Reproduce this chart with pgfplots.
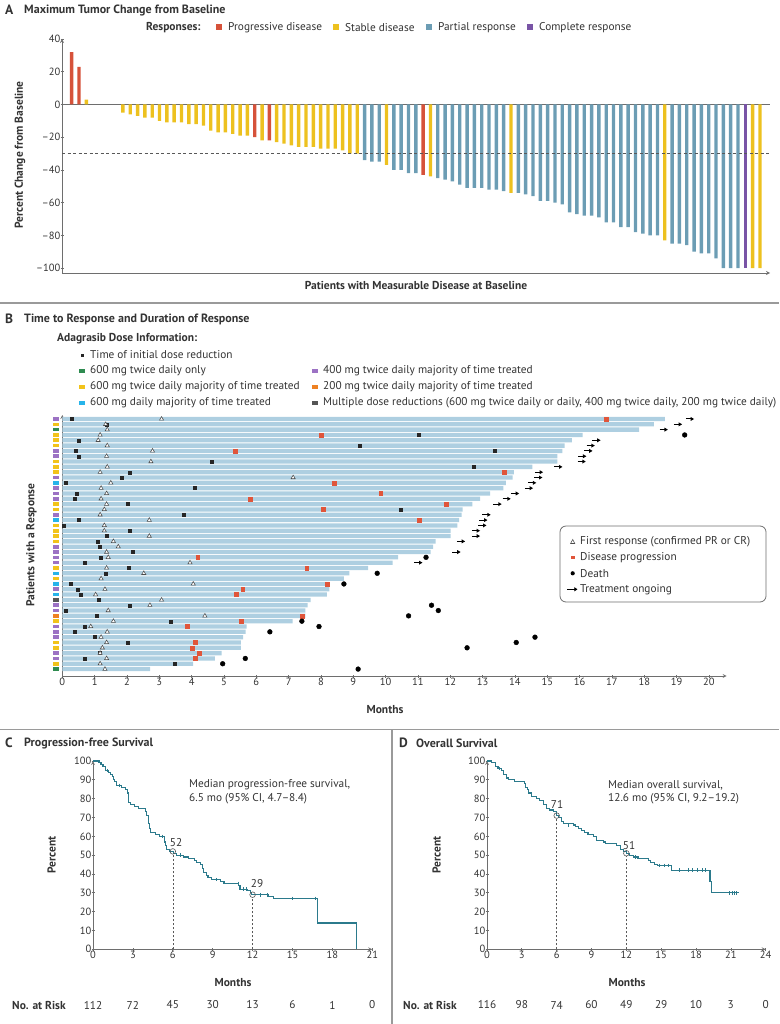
\documentclass[border=0pt]{standalone}
\usepackage{fontspec}
\setmainfont{PT Sans}
\usepackage{pgfplots}
\pgfplotsset{compat=1.18}
\usetikzlibrary{arrows.meta}

\definecolor{cred}{HTML}{D6523A}
\definecolor{cyel}{HTML}{EDC11F}
\definecolor{cblue}{HTML}{6C9DB4}
\definecolor{cpur}{HTML}{7954A6}
\definecolor{barblue}{HTML}{AECFE1}
\definecolor{tagpur}{HTML}{9C72C4}
\definecolor{tagyel}{HTML}{F2C31A}
\definecolor{taggrn}{HTML}{2E8B50}
\definecolor{tagcya}{HTML}{27B4EA}
\definecolor{tagorg}{HTML}{EE8122}
\definecolor{taggry}{HTML}{555555}
\definecolor{progred}{HTML}{E0553A}
\definecolor{km}{HTML}{2B7A8C}
\definecolor{txt}{HTML}{333333}
\definecolor{axc}{HTML}{6E6E6E}
\definecolor{sep}{HTML}{9A9A9A}

\newcommand\fs[1]{\fontsize{#1}{#1}\selectfont}
\newcommand\body{\fs{11.3}}
\newcommand\lab{\bfseries\fs{11.5}}
\newcommand\ttl{\bfseries\fs{12}}
\newcommand\plet{\bfseries\fs{13.5}}

% treatment ongoing arrow
\pgfdeclareplotmark{ongoing}{%
  \pgfsetlinewidth{1pt}%
  \pgfpathmoveto{\pgfqpoint{-4pt}{0pt}}\pgfpathlineto{\pgfqpoint{1.5pt}{0pt}}\pgfusepathqstroke
  \pgfpathmoveto{\pgfqpoint{4.2pt}{0pt}}\pgfpathlineto{\pgfqpoint{0.8pt}{2pt}}%
  \pgfpathlineto{\pgfqpoint{0.8pt}{-2pt}}\pgfpathclose\pgfusepathqfill}
% dose group tag
\pgfdeclareplotmark{rowtag}{%
  \pgfpathrectangle{\pgfqpoint{-3pt}{-1.8pt}}{\pgfqpoint{6pt}{3.6pt}}\pgfusepathqfill}

\pgfplotsset{
  base/.style={scale only axis, anchor=south west, clip=false,
    axis line style={-, axc, line width=0.8pt},
    tick style={axc, line width=0.7pt},
    tick align=outside, major tick length=3pt,
    tick label style={font=\fs{10.5}, text=txt},
    /pgf/number format/assume math mode=true},
}

\begin{document}
\begin{tikzpicture}[x=1pt,y=-1pt,every node/.style={text=txt, inner sep=0pt}]

% ---------------- Panel A ----------------
\begin{axis}[base, at={(62pt,-273pt)}, width=708pt, height=234pt,
  xmin=-0.32, xmax=96.37, ymin=-103, ymax=40,
  axis x line=bottom, axis y line=left, xtick=\empty,
  ytick={-100,-80,-60,-40,-20,0,20,40},
  yticklabels={{--100},{--80},{--60},{--40},{--20},0,20,40}]
\addplot[axc, line width=0.8pt] coordinates {(-0.32,0) (96.37,0)};
\addplot[ybar, bar width=3.4pt, bar shift=0pt, fill=cred, draw=none] coordinates {
(1,32) (2,23) (26,-20) (28,-22) (49,-43)};
\addplot[ybar, bar width=3.4pt, bar shift=0pt, fill=cyel, draw=none] coordinates {
(3,3) (8,-5) (9,-6) (10,-7) (11,-8) (12,-8) (13,-10) (14,-11) (15,-11) (16,-11)
(17,-12) (18,-12) (19,-13) (20,-16) (21,-17) (22,-17) (23,-18) (24,-19) (25,-19)
(27,-22) (29,-23) (30,-24) (31,-25) (32,-26) (33,-26) (34,-26) (35,-27) (36,-27)
(37,-27) (38,-28) (39,-30) (40,-30) (44,-37) (50,-44) (61,-54) (82,-83) (94,-100) (95,-100)};
\addplot[ybar, bar width=3.4pt, bar shift=0pt, fill=cblue, draw=none] coordinates {
(41,-34) (42,-35) (43,-35) (45,-40) (46,-40) (47,-42) (48,-42) (51,-45) (52,-46)
(53,-47) (54,-49) (55,-51) (56,-51) (57,-51) (58,-52) (59,-52) (60,-53) (62,-54)
(63,-55) (64,-56) (65,-59) (66,-59) (67,-60) (68,-61) (69,-66) (70,-67) (71,-68)
(72,-68) (73,-69) (74,-72) (75,-72) (76,-75) (77,-75) (78,-78) (79,-79) (80,-80)
(81,-80) (83,-85) (84,-85) (85,-86) (86,-90) (87,-91) (88,-91) (89,-94) (90,-100)
(91,-100) (92,-100)};
\addplot[ybar, bar width=3.4pt, bar shift=0pt, fill=cpur, draw=none] coordinates {(93,-100)};
\addplot[axc!80!black, line width=0.8pt, dash pattern=on 3pt off 2.5pt] coordinates {(-0.32,-30) (96.37,-30)};
\end{axis}

\node[anchor=west, font=\plet] at (5,10) {A};
\node[anchor=west, font=\ttl] at (24,10) {Maximum Tumor Change from Baseline};
\node[anchor=west, font=\lab] at (146,27.5) {Responses:};
\fill[cred] (216,24.5) rectangle (222,30.5);
\node[anchor=west, font=\body] at (228,27.5) {Progressive disease};
\fill[cyel] (333,24.5) rectangle (339,30.5);
\node[anchor=west, font=\body] at (345,27.5) {Stable disease};
\fill[cblue] (426,24.5) rectangle (432,30.5);
\node[anchor=west, font=\body] at (438,27.5) {Partial response};
\fill[cpur] (527,24.5) rectangle (533,30.5);
\node[anchor=west, font=\body] at (539,27.5) {Complete response};
\node[rotate=90, font=\lab] at (20,155) {Percent Change from Baseline};
\node[font=\lab] at (416,285) {Patients with Measurable Disease at Baseline};

% separators
\draw[sep, line width=1.6pt] (0,303) -- (779,303);
\draw[sep, line width=1.6pt] (0,729.5) -- (779,729.5);
\draw[sep, line width=1.6pt] (392,729.5) -- (392,1024);

% ---------------- Panel B ----------------
\node[anchor=west, font=\plet] at (5,319) {B};
\node[anchor=west, font=\ttl] at (24,319) {Time to Response and Duration of Response};
\node[anchor=west, font=\lab] at (57,339) {Adagrasib Dose Information:};
\fill[black!85] (80.5,353.5) rectangle (83.5,356.5);
\node[anchor=west, font=\body] at (90,355) {Time of initial dose reduction};
\fill[taggrn] (79,369.3) rectangle (85,372.7);
\node[anchor=west, font=\body] at (90,371) {600 mg twice daily only};
\fill[tagyel] (79,385.3) rectangle (85,388.7);
\node[anchor=west, font=\body] at (90,387) {600 mg twice daily majority of time treated};
\fill[tagcya] (79,401.3) rectangle (85,404.7);
\node[anchor=west, font=\body] at (90,403) {600 mg daily majority of time treated};
\fill[tagpur] (312,369.3) rectangle (318,372.7);
\node[anchor=west, font=\body] at (323,371) {400 mg twice daily majority of time treated};
\fill[tagorg] (312,385.3) rectangle (318,388.7);
\node[anchor=west, font=\body] at (323,387) {200 mg twice daily majority of time treated};
\fill[taggry] (312,401.3) rectangle (318,404.7);
\node[anchor=west, font=\body] at (323,403) {Multiple dose reductions (600 mg twice daily or daily, 400 mg twice daily, 200 mg twice daily)};

\begin{axis}[base, at={(62.3pt,-676pt)}, width=664.4pt, height=261pt,
  xmin=0, xmax=20.55, ymin=-49.3, ymax=-0.25,
  axis x line=bottom, axis y line=left, ytick=\empty, xtick={0,1,...,20}]
\addplot[xbar, bar width=4.3pt, bar shift=0pt, fill=barblue, draw=none] coordinates {
(18.64,-1) (18.30,-2) (17.84,-3) (16.09,-4) (15.76,-5) (15.54,-6) (15.47,-7) (15.31,-8)
(15.31,-9) (14.54,-10) (13.97,-11) (13.93,-12) (13.72,-13) (13.64,-14) (13.23,-15)
(12.92,-16) (12.68,-17) (12.38,-18) (12.35,-19) (12.27,-20) (12.22,-21) (12.01,-22)
(12.01,-23) (11.55,-24) (11.47,-25) (11.39,-26) (10.39,-27) (10.22,-28) (9.46,-29)
(8.88,-30) (8.71,-31) (8.26,-32) (8.26,-33) (8.18,-34) (7.68,-35) (7.59,-36) (7.52,-37)
(7.52,-38) (7.12,-39) (5.70,-40) (5.67,-41) (5.59,-42) (5.52,-43) (5.52,-44) (4.93,-45)
(4.72,-46) (4.05,-47) (2.72,-48)};
% dose group tags
\addplot[only marks, mark=rowtag, tagpur] coordinates {
(-0.2,-1) (-0.2,-7) (-0.2,-8) (-0.2,-12) (-0.2,-14) (-0.2,-15) (-0.2,-16) (-0.2,-19)
(-0.2,-25) (-0.2,-26) (-0.2,-27) (-0.2,-28) (-0.2,-33) (-0.2,-36) (-0.2,-37) (-0.2,-40)
(-0.2,-41) (-0.2,-42) (-0.2,-45) (-0.2,-46)};
\addplot[only marks, mark=rowtag, tagyel] coordinates {
(-0.2,-2) (-0.2,-4) (-0.2,-5) (-0.2,-6) (-0.2,-9) (-0.2,-10) (-0.2,-11) (-0.2,-17)
(-0.2,-18) (-0.2,-21) (-0.2,-22) (-0.2,-23) (-0.2,-24) (-0.2,-29) (-0.2,-31) (-0.2,-39)
(-0.2,-43) (-0.2,-44) (-0.2,-47)};
\addplot[only marks, mark=rowtag, taggrn] coordinates {(-0.2,-3) (-0.2,-48)};
\addplot[only marks, mark=rowtag, tagcya] coordinates {(-0.2,-13) (-0.2,-20) (-0.2,-30) (-0.2,-32) (-0.2,-34)};
\addplot[only marks, mark=rowtag, taggry] coordinates {(-0.2,-35)};
\addplot[only marks, mark=rowtag, tagorg] coordinates {(-0.2,-38)};
% time of initial dose reduction
\addplot[only marks, mark=square*, mark size=1.5pt, black!85] coordinates {
(0.29,-1) (1.37,-2) (11.03,-4) (0.52,-5) (9.2,-6) (0.42,-7) (13.36,-7) (0.50,-8) (4.62,-9)
(12.71,-10) (2.09,-11) (1.84,-12) (0.10,-13) (4.10,-14) (0.45,-15) (0.37,-16) (2.01,-17)
(10.47,-18) (3.76,-19) (0.52,-20) (0.04,-21) (2.09,-22) (1.37,-23) (1.11,-24) (1.15,-25)
(2.17,-26) (1.19,-27) (0.68,-28) (2.04,-29) (1.35,-30) (0.26,-32) (0.48,-33) (0.58,-34)
(1.13,-35) (2.09,-36) (0.10,-37) (1.06,-38) (3.34,-39) (0.68,-40) (0.37,-41) (1.01,-42)
(2.02,-43) (1.15,-45) (0.68,-46) (3.49,-47)};
% first response
\addplot[only marks, mark=triangle*, mark size=2.4pt, draw=black!70, fill=white, line width=0.55pt] coordinates {
(3.07,-1) (1.34,-2) (1.39,-3) (1.17,-4) (1.11,-5) (1.39,-6) (2.79,-7) (1.37,-8) (2.74,-9)
(1.39,-10) (1.17,-11) (7.14,-12) (1.50,-13) (1.20,-14) (1.37,-15) (1.20,-16) (1.37,-17)
(1.30,-18) (1.17,-19) (2.69,-20) (1.30,-21) (1.30,-22) (2.69,-23) (1.58,-24) (1.73,-25)
(1.37,-26) (1.42,-27) (3.95,-28) (1.37,-29) (2.52,-30) (1.20,-31) (4.05,-32) (1.32,-33)
(1.03,-34) (3.07,-35) (2.71,-36) (1.42,-37) (4.41,-38) (1.58,-39) (0.88,-40) (1.39,-41)
(1.20,-42) (1.37,-43) (1.24,-44) (1.17,-45) (1.37,-46) (1.17,-47) (1.32,-48)};
% disease progression
\addplot[only marks, mark=square*, mark size=1.9pt, progred] coordinates {
(16.83,-1) (8.02,-4) (5.36,-7) (13.66,-11) (8.41,-13) (9.85,-15) (5.80,-16) (11.88,-17)
(8.06,-18) (11.03,-20) (4.19,-27) (7.56,-29) (8.20,-32) (5.58,-33) (5.39,-34) (7.43,-38)
(5.53,-39) (3.86,-40) (4.10,-43) (4.02,-44) (4.23,-45) (4.10,-46)};
% death
\addplot[only marks, mark=*, mark size=2.4pt, black] coordinates {
(19.25,-4) (11.25,-27) (9.74,-30) (8.71,-32) (11.42,-36) (11.63,-37) (10.71,-38) (7.41,-39)
(7.94,-40) (6.42,-41) (14.62,-42) (14.04,-43) (12.52,-44) (5.66,-46) (4.96,-47) (9.15,-48)};
% treatment ongoing
\addplot[only marks, mark=ongoing, black] coordinates {
(19.41,-1) (19.04,-2) (18.6,-3) (16.52,-5) (16.34,-6) (16.27,-7) (16.08,-8) (16.06,-9)
(15.34,-10) (14.74,-11) (14.72,-12) (14.53,-13) (14.43,-14) (14.0,-15) (13.74,-16)
(13.46,-17) (13.12,-19) (13.02,-20) (12.99,-21) (12.79,-22) (12.79,-23) (12.33,-24)
(12.19,-26) (11.01,-28)};
\end{axis}

\node[rotate=90, font=\lab] at (31.5,545) {Patients with a Response};
\node[font=\lab] at (385,710) {Months};

\draw[axc, line width=0.8pt, rounded corners=6pt, fill=white] (560,526) rectangle (766,602);
\draw[black!70, line width=0.55pt, fill=white] (570.6,543.5) -- (574.8,543.5) -- (572.7,539.5) -- cycle;
\node[anchor=west, font=\body] at (580,541.7) {First response (confirmed PR or CR)};
\fill[progred] (570.9,555.5) rectangle (574.5,559.1);
\node[anchor=west, font=\body] at (580,557.3) {Disease progression};
\fill[black] (572.7,573.3) circle (2.1pt);
\node[anchor=west, font=\body] at (580,573.3) {Death};
\draw[black, line width=1pt, -{Triangle[length=3.2pt,width=4pt]}] (567,589.3) -- (577.5,589.3);
\node[anchor=west, font=\body] at (580,589.3) {Treatment ongoing};

% ---------------- Panel C ----------------
\node[anchor=west, font=\plet] at (5,743) {C};
\node[anchor=west, font=\ttl] at (24,743) {Progression-free Survival};
\begin{axis}[base, at={(93pt,-949.3pt)}, width=279.3pt, height=188.3pt,
  xmin=0, xmax=21, ymin=0, ymax=100,
  axis x line=bottom, axis y line=left,
  xtick={0,3,...,21}, ytick={0,10,...,100}]
\addplot[const plot, km, line width=1.1pt] coordinates {
(0,100) (0.45,99) (0.6,98) (0.75,97) (0.95,95) (1.15,94) (1.3,93) (1.45,92) (1.55,90)
(1.65,89) (1.8,87) (2.15,86) (2.45,85) (2.6,83) (2.7,78) (2.85,77) (3.1,76) (3.45,75)
(3.95,73) (4.05,71) (4.15,67) (4.25,64) (4.35,62) (4.7,61) (5.0,60) (5.35,57) (5.45,55)
(5.55,53) (5.75,52) (6.05,51) (6.3,50) (6.8,49) (7.2,48) (7.6,47) (7.8,46) (8.05,45)
(8.2,43) (8.3,41) (8.55,39) (8.65,38) (8.9,37) (9.6,36) (9.85,35) (10.95,34) (11.05,32)
(11.6,31) (11.85,30) (11.95,29) (13.2,28) (13.6,27) (16.85,14) (19.8,0)};
\addplot[only marks, mark=|, mark size=1.8pt, km, line width=0.6pt] coordinates {
(1.05,95) (2.0,87) (5.2,60) (6.6,50) (9.3,37) (10.9,35) (11.3,32) (11.5,32) (12.6,29)
(13.1,29) (15.0,27) (16.7,27)};
\addplot[black!65, line width=0.6pt, dash pattern=on 2.5pt off 1.5pt] coordinates {(6,0) (6,50.5)};
\addplot[black!65, line width=0.6pt, dash pattern=on 2.5pt off 1.5pt] coordinates {(12,0) (12,27.5)};
\addplot[only marks, mark=o, mark size=2.8pt, black!65, line width=0.6pt] coordinates {(6,52) (12,29)};
\end{axis}
\node[font=\body] at (176,843) {52};
\node[font=\body] at (257,884) {29};
\node[anchor=west, font=\body] at (189,785) {Median progression-free survival,};
\node[anchor=west, font=\body] at (189,799) {6.5 mo (95\% CI, 4.7--8.4)};
\node[rotate=90, font=\lab] at (51.5,855) {Percent};
\node[font=\lab] at (233,983) {Months};
\node[anchor=west, font=\lab] at (12,1005) {No. at Risk};
\foreach \v [count=\i from 0] in {112,72,45,30,13,6,1,0}
  \node[font=\body] at (93+39.9*\i,1005) {\v};

% ---------------- Panel D ----------------
\node[anchor=west, font=\plet] at (399,743) {D};
\node[anchor=west, font=\ttl] at (416,743) {Overall Survival};
\begin{axis}[base, at={(487pt,-949.3pt)}, width=278.7pt, height=188.3pt,
  xmin=0, xmax=24, ymin=0, ymax=100,
  axis x line=bottom, axis y line=left,
  xtick={0,3,...,24}, ytick={0,10,...,100}]
\addplot[const plot, km, line width=1.1pt] coordinates {
(0,100) (0.4,99) (0.75,97) (0.95,96) (1.25,95) (1.45,93) (1.7,91) (1.85,90) (2.4,89)
(3.2,88) (3.35,86) (3.45,85) (3.55,83) (3.85,81) (4.25,80) (4.55,79) (4.85,77) (5.1,75)
(5.35,74) (5.7,73) (5.95,71) (6.15,70) (6.4,68) (6.55,67) (7.45,66) (7.6,65) (7.85,64)
(8.1,63) (8.4,62) (8.7,61) (9.15,60) (9.4,58) (10.0,57) (10.2,56) (11.15,55) (11.5,53)
(11.75,52) (12.0,51) (12.3,50) (12.6,49) (13.0,48) (13.9,47) (14.1,46) (14.4,45)
(14.65,44.5) (15.85,42) (19.2,36) (19.3,30) (21.7,30)};
\addplot[only marks, mark=|, mark size=1.8pt, km, line width=0.6pt] coordinates {
(1.05,96) (7.0,66) (12.8,49) (14.8,44.5) (15.3,44.5) (15.6,44.5) (16.6,42) (17.3,42)
(17.7,42) (18.1,42) (18.5,42) (18.8,42) (20.9,30) (21.1,30) (21.3,30) (21.5,30)};
\addplot[black!65, line width=0.6pt, dash pattern=on 2.5pt off 1.5pt] coordinates {(6,0) (6,69.5)};
\addplot[black!65, line width=0.6pt, dash pattern=on 2.5pt off 1.5pt] coordinates {(12,0) (12,49.5)};
\addplot[only marks, mark=o, mark size=2.8pt, black!65, line width=0.6pt] coordinates {(6,71) (12,51)};
\end{axis}
\node[font=\body] at (557,804) {71};
\node[font=\body] at (629,846) {51};
\node[anchor=west, font=\body] at (608,785) {Median overall survival,};
\node[anchor=west, font=\body] at (608,799) {12.6 mo (95\% CI, 9.2--19.2)};
\node[rotate=90, font=\lab] at (436.5,855) {Percent};
\node[font=\lab] at (627,983) {Months};
\node[anchor=west, font=\lab] at (403,1005) {No. at Risk};
\foreach \v [count=\i from 0] in {116,98,74,60,49,29,10,3,0}
  \node[font=\body] at (487+34.83*\i,1005) {\v};

\pgfresetboundingbox
\path[use as bounding box] (0,0) rectangle (779,1024);
\end{tikzpicture}
\end{document}
